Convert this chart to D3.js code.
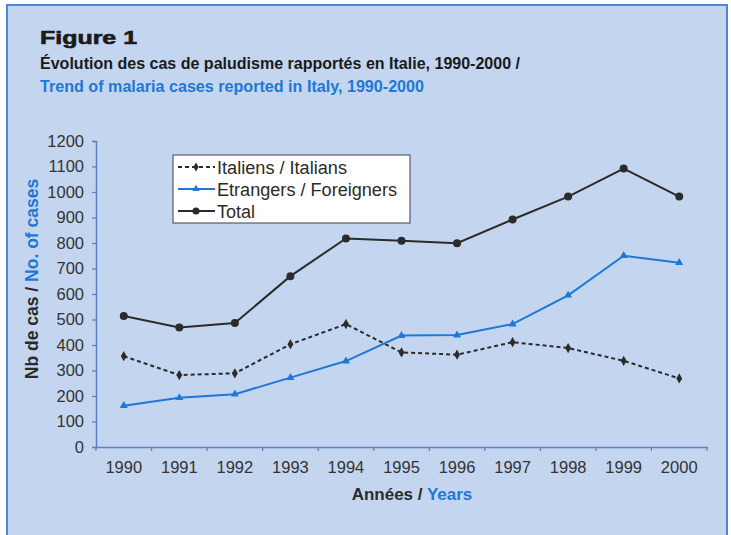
<!DOCTYPE html>
<html><head><meta charset="utf-8">
<script src="https://cdn.jsdelivr.net/npm/d3@7"></script>
<style>
html,body{margin:0;padding:0;background:#fff;}
svg{display:block;}
text{font-family:"Liberation Sans",Arial,sans-serif;}
</style></head>
<body>
<svg id="chart" width="731" height="535"></svg>
<script>
const years = ["1990","1991","1992","1993","1994","1995","1996","1997","1998","1999","2000"];
const italians = [356, 282, 289, 403, 482, 371, 362, 411, 388, 338, 269];
const foreigners = [162, 193, 207, 272, 337, 437, 439, 482, 595, 750, 723];
const total = [514, 469, 486, 670, 818, 809, 799, 892, 982, 1092, 982];
const yTicks = [0,100,200,300,400,500,600,700,800,900,1000,1100,1200];
const seriesNames = ["Italiens / Italians", "Etrangers / Foreigners", "Total"];

const svg = d3.select("#chart");
const dark = "#2b2b2b", blue = "#1e78d6", axisCol = "#5b7fbf";

// frame
svg.append("rect").attr("x",7).attr("y",5).attr("width",720).attr("height",540)
  .attr("fill","#c4d5f0").attr("stroke","#4f86d6").attr("stroke-width",2);

// titles
svg.append("text").attr("x",40).attr("y",44).attr("font-family","'DejaVu Sans',sans-serif")
  .attr("font-weight","900").attr("font-size",18).attr("fill","#1a1a1a")
  .attr("stroke","#1a1a1a").attr("stroke-width",0.6)
  .attr("textLength",97).attr("lengthAdjust","spacingAndGlyphs").text("Figure 1");
svg.append("text").attr("x",40).attr("y",69).attr("font-weight","bold").attr("font-size",16)
  .attr("fill","#1a1a1a").attr("textLength",480).attr("lengthAdjust","spacingAndGlyphs")
  .text("Évolution des cas de paludisme rapportés en Italie, 1990-2000 /");
svg.append("text").attr("x",40).attr("y",92).attr("font-weight","bold").attr("font-size",16)
  .attr("fill",blue).attr("textLength",384).attr("lengthAdjust","spacingAndGlyphs")
  .text("Trend of malaria cases reported in Italy, 1990-2000");

const m = {left:96, right:707, top:141, bottom:447};
const x = d3.scaleBand().domain(years).range([m.left, m.right]);
const y = d3.scaleLinear().domain([0,1200]).range([m.bottom, m.top]);
const cx = d => x(d) + x.bandwidth()/2;

// y axis
const ya = svg.append("g").attr("transform",`translate(${m.left},0)`)
  .call(d3.axisLeft(y).tickValues(yTicks).tickFormat(d3.format("d")).tickSize(4).tickPadding(8));
ya.select(".domain").attr("stroke",axisCol).attr("stroke-width",1.5);
ya.selectAll(".tick line").attr("stroke",axisCol).attr("stroke-width",1.2);
ya.selectAll(".tick text").attr("font-size",16.5).attr("fill","#333").attr("font-family","'Liberation Sans',Arial,sans-serif");

// x axis with ticks at band boundaries
const xa = svg.append("g").attr("transform",`translate(0,${m.bottom})`)
  .call(d3.axisBottom(x).tickSize(0).tickPadding(14));
xa.select(".domain").attr("stroke",axisCol).attr("stroke-width",1.5);
xa.selectAll(".tick text").attr("font-size",16.5).attr("fill","#333").attr("font-family","'Liberation Sans',Arial,sans-serif");
const bounds = years.map(d => x(d)).concat([m.right]);
xa.selectAll("line.bt").data(bounds).join("line").attr("class","bt")
  .attr("x1",d=>d).attr("x2",d=>d).attr("y1",0).attr("y2",4)
  .attr("stroke",axisCol).attr("stroke-width",1.2);

// axis titles
const yt = svg.append("text").attr("transform","translate(38,279) rotate(-90)")
  .attr("text-anchor","middle").attr("font-weight","bold").attr("font-size",17.5);
yt.append("tspan").attr("fill","#2b2b2b").text("Nb de cas / ");
yt.append("tspan").attr("fill",blue).text("No. of cases");
const xt = svg.append("text").attr("x",412).attr("y",500)
  .attr("text-anchor","middle").attr("font-weight","bold").attr("font-size",17);
xt.append("tspan").attr("fill","#2b2b2b").text("Années / ");
xt.append("tspan").attr("fill",blue).text("Years");

const line = d3.line().x((d,i)=>cx(years[i])).y(d=>y(d));
const series = [
  {name:seriesNames[0], values:italians, color:dark, dash:"4,3", sym:d3.symbolDiamond, size:30},
  {name:seriesNames[1], values:foreigners, color:blue, dash:null, sym:d3.symbolTriangle, size:28},
  {name:seriesNames[2], values:total, color:dark, dash:null, sym:d3.symbolCircle, size:50}
];
series.forEach(s=>{
  svg.append("path").datum(s.values).attr("d",line).attr("fill","none")
    .attr("stroke",s.color).attr("stroke-width",2).attr("stroke-dasharray",s.dash);
  svg.append("g").selectAll("path").data(s.values).join("path")
    .attr("d",d3.symbol().type(s.sym).size(s.size))
    .attr("transform",(d,i)=>`translate(${cx(years[i])},${y(d)})`)
    .attr("fill",s.color);
});

// legend
svg.append("rect").attr("x",173).attr("y",155).attr("width",237).attr("height",68)
  .attr("fill","#fff").attr("stroke","#555a70").attr("stroke-width",1.2);
series.forEach((s,i)=>{
  const ly = 167 + i*22;
  svg.append("line").attr("x1",178).attr("x2",215).attr("y1",ly).attr("y2",ly)
    .attr("stroke",s.color).attr("stroke-width",2).attr("stroke-dasharray",s.dash);
  svg.append("path").attr("d",d3.symbol().type(s.sym).size(s.size*0.8)())
    .attr("transform",`translate(196,${ly})`).attr("fill",s.color);
  const t = svg.append("text").attr("x",217).attr("y",ly+6.5).attr("font-size",18).attr("fill","#2b2b2b").text(s.name);
  if (i < 2) t.attr("textLength", [130,180][i]).attr("lengthAdjust","spacingAndGlyphs");
});
</script>
</body></html>
